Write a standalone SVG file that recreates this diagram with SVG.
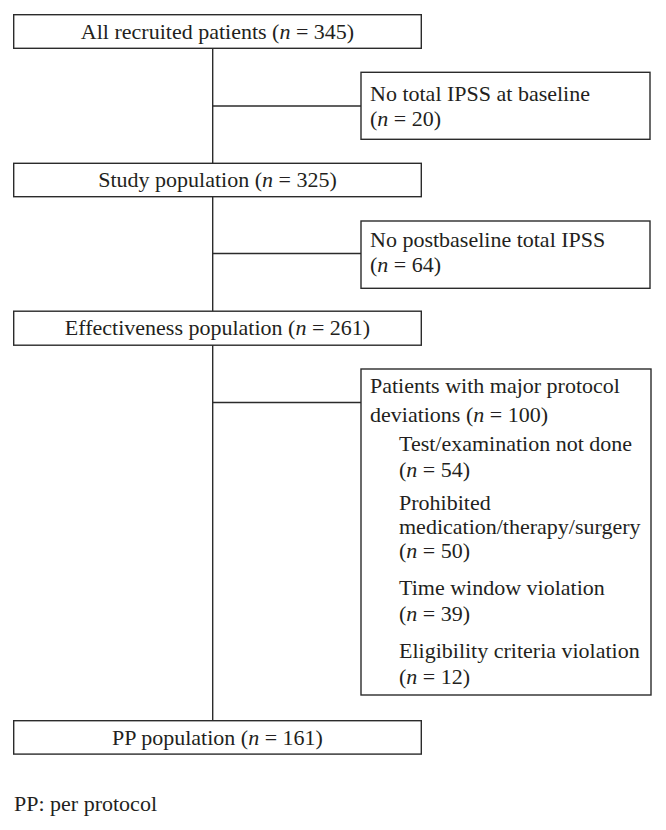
<svg xmlns="http://www.w3.org/2000/svg" width="666" height="830" viewBox="0 0 666 830">
<style>
.box{fill:#fff;stroke:#2b2b2b;stroke-width:1.4}
.ln{stroke:#2b2b2b;stroke-width:1.4;fill:none}
text{font-family:"Liberation Serif","Times New Roman",serif;font-size:22px;fill:#231f20}
.c{text-anchor:middle}
.i{font-style:italic}
</style>
<rect width="666" height="830" fill="#fff"/>
<g id="connectors">
<line class="ln" x1="212.7" y1="48" x2="212.7" y2="163.5"/>
<line class="ln" x1="212.7" y1="196.5" x2="212.7" y2="311.5"/>
<line class="ln" x1="212.7" y1="345" x2="212.7" y2="721"/>
<line class="ln" x1="212.7" y1="106" x2="361" y2="106"/>
<line class="ln" x1="212.7" y1="253.5" x2="361" y2="253.5"/>
<line class="ln" x1="212.7" y1="402.5" x2="361" y2="402.5"/>
</g>
<g id="all">
<rect class="box" x="13.7" y="14.7" width="407.6" height="33.6"/>
<text class="c" x="217.5" y="38.5">All recruited patients (<tspan class="i">n</tspan> = 345)</text>
</g>
<g id="nobaseline">
<rect class="box" x="361" y="72.3" width="289" height="67"/>
<text x="370" y="100.7">No total IPSS at baseline</text>
<text x="370" y="125.5">(<tspan class="i">n</tspan> = 20)</text>
</g>
<g id="study">
<rect class="box" x="13.7" y="163.3" width="407.6" height="33.4"/>
<text class="c" x="217.5" y="187">Study population (<tspan class="i">n</tspan> = 325)</text>
</g>
<g id="nopost">
<rect class="box" x="361" y="221" width="289" height="67.3"/>
<text x="370" y="246.7">No postbaseline total IPSS</text>
<text x="370" y="271.5">(<tspan class="i">n</tspan> = 64)</text>
</g>
<g id="effectiveness">
<rect class="box" x="13.7" y="311.2" width="407.6" height="34"/>
<text class="c" x="217.5" y="334.5">Effectiveness population (<tspan class="i">n</tspan> = 261)</text>
</g>
<g id="deviations">
<rect class="box" x="361" y="369" width="290" height="326"/>
<text x="370" y="393.3">Patients with major protocol</text>
<text x="370" y="421.7">deviations (<tspan class="i">n</tspan> = 100)</text>
<text x="399" y="450.7">Test/examination not done</text>
<text x="399" y="476.7">(<tspan class="i">n</tspan> = 54)</text>
<text x="399" y="510">Prohibited</text>
<text x="399" y="533.5">medication/therapy/surgery</text>
<text x="399" y="558.3">(<tspan class="i">n</tspan> = 50)</text>
<text x="399" y="595">Time window violation</text>
<text x="399" y="620.7">(<tspan class="i">n</tspan> = 39)</text>
<text x="399" y="657.7">Eligibility criteria violation</text>
<text x="399" y="684">(<tspan class="i">n</tspan> = 12)</text>
</g>
<g id="pp">
<rect class="box" x="13.7" y="720.7" width="407.6" height="33.4"/>
<text class="c" x="217.5" y="744.7">PP population (<tspan class="i">n</tspan> = 161)</text>
</g>
<text x="14" y="811.3">PP: per protocol</text>
</svg>
